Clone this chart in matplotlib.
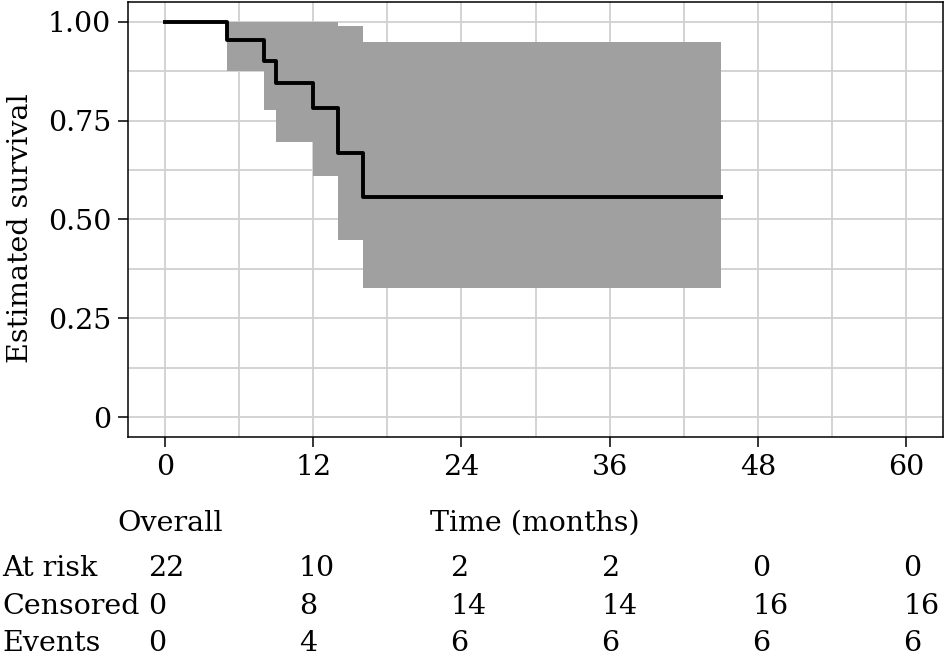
import matplotlib
matplotlib.use("Agg")
import matplotlib.pyplot as plt
import matplotlib.transforms as mtransforms
import numpy as np

# Kaplan-Meier estimate
times = [0, 5, 8, 9, 12, 14, 16, 45]
surv = [1.0, 0.955, 0.900, 0.845, 0.781, 0.667, 0.556, 0.556]
ci_upper = [1.0, 1.0, 1.0, 1.0, 1.0, 0.988, 0.948, 0.948]
ci_lower = [1.0, 0.875, 0.778, 0.695, 0.609, 0.449, 0.326, 0.326]

# risk table
table_times = [0, 12, 24, 36, 48, 60]
at_risk = [22, 10, 2, 2, 0, 0]
censored = [0, 8, 14, 14, 16, 16]
events = [0, 4, 6, 6, 6, 6]
row_names = ["At risk", "Censored", "Events"]

y_ticks = [0, 0.25, 0.5, 0.75, 1.0]
y_tick_labels = ["0", "0.25", "0.50", "0.75", "1.00"]

plt.rcParams['font.family'] = ['DejaVu Serif']
fs = 20.5

fig = plt.figure(figsize=(9.45, 6.59), dpi=100)
ax = fig.add_axes([0.1354, 0.337, 0.8626, 0.660])

ax.fill_between(times, ci_lower, ci_upper, step='post', color='#a0a0a0', linewidth=0, zorder=2)
ax.plot(times, surv, drawstyle='steps-post', color='black', linewidth=2.8, zorder=3)

ax.set_xlim(-3, 63)
ax.set_ylim(-0.05, 1.05)
ax.set_xticks(table_times)
ax.set_xticks([6, 18, 30, 42, 54], minor=True)
ax.set_yticks(y_ticks)
ax.set_yticklabels(y_tick_labels)
ax.set_yticks([0.125, 0.375, 0.625, 0.875], minor=True)
ax.grid(True, which='both', color='#d0d0d0', linewidth=1.3, zorder=1)
ax.set_axisbelow(True)
ax.tick_params(which='major', length=7, width=1.1, labelsize=fs, pad=5, color='black')
ax.tick_params(which='minor', length=0)
for sp in ax.spines.values():
    sp.set_linewidth(1.1)

ax.set_ylabel("Estimated survival", fontsize=fs, labelpad=10)
ax.yaxis.label.set_y(0.48)

# x-axis title and stratum label
fig.text(0.566, 1 - 531 / 659, "Time (months)", ha='center', va='baseline', fontsize=fs)
fig.text(117 / 945, 1 - 531 / 659, "Overall", ha='left', va='baseline', fontsize=fs)

# risk table rows
trans = mtransforms.blended_transform_factory(ax.transData, fig.transFigure)
row_y = [1 - 576 / 659, 1 - 614 / 659, 1 - 651 / 659]
for name, vals, yy in zip(row_names, [at_risk, censored, events], row_y):
    fig.text(2 / 945, yy, name, ha='left', va='baseline', fontsize=fs)
    for t, v in zip(table_times, vals):
        # numbers are left aligned a bit before each tick
        ax.text(t - 1.4 + 0.02 * t, yy, str(v), transform=trans, ha='left', va='baseline',
                fontsize=fs, clip_on=False)

fig.savefig("out.png", dpi=100)
